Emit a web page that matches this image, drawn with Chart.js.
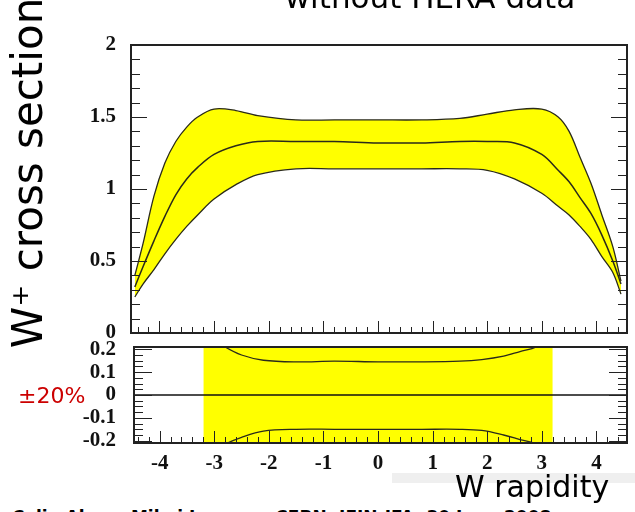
<!DOCTYPE html>
<html>
<head>
<meta charset="utf-8">
<script src="https://cdn.jsdelivr.net/npm/chart.js@4.4.1/dist/chart.umd.min.js"></script>
<style>
  body { margin: 0; background: #fff; }
  #wrap { position: relative; width: 635px; height: 512px; overflow: hidden; background: #fff; }
  canvas { position: absolute; left: 0; }
  #topChart { top: 0; }
  #ratioChart { top: 330px; }
  .txt { position: absolute; white-space: nowrap; font-family: "DejaVu Sans", sans-serif; color: #000; line-height: 1; }
</style>
</head>
<body>
<div id="wrap">
  <canvas id="topChart" width="635" height="345"></canvas>
  <canvas id="ratioChart" width="635" height="160"></canvas>

  <div class="txt" style="left:230px; top:-18px; width:400px; text-align:center; font-size:31px;">without HERA data</div>
  <div class="txt" style="left:-172px; top:152px; width:400px; height:42px; text-align:center; font-size:42px; transform:rotate(-90deg);">W⁺ cross section</div>
  <div class="txt" style="left:18px; top:385px; font-size:22px; color:#cc0000;">±20%</div>
  <div style="position:absolute; left:392px; top:473px; width:243px; height:10px; background:#efefef;"></div>
  <div class="txt" style="left:455px; top:472px; font-size:30px;">W rapidity</div>
  <div class="txt" style="left:12px; top:509px; font-size:17px; font-weight:bold;">Calin Alexa, Mihai Ionescu, CERN, IFIN-IFA, 30 June 2008</div>
</div>

<script>
// W rapidity points of the top panel
const rapidity = [-4.45, -4.3, -4.1, -3.9, -3.7, -3.5, -3.3, -3.0, -2.6, -2.2, -1.5, -0.8, 0,
                  0.8, 1.5, 2.0, 2.5, 3.0, 3.3, 3.5, 3.7, 3.9, 4.1, 4.3, 4.45];
const xsecUpper  = [0.40, 0.62, 0.95, 1.18, 1.33, 1.43, 1.50, 1.555, 1.545, 1.51, 1.48, 1.48, 1.48,
                    1.48, 1.49, 1.52, 1.55, 1.555, 1.50, 1.40, 1.22, 1.04, 0.82, 0.60, 0.36];
const xsecCentre = [0.32, 0.46, 0.64, 0.81, 0.96, 1.07, 1.15, 1.24, 1.30, 1.33, 1.33, 1.33, 1.32,
                    1.32, 1.33, 1.33, 1.32, 1.24, 1.13, 1.05, 0.94, 0.83, 0.68, 0.50, 0.34];
const xsecLower  = [0.25, 0.34, 0.44, 0.55, 0.65, 0.74, 0.82, 0.93, 1.03, 1.10, 1.14, 1.14, 1.14,
                    1.14, 1.14, 1.13, 1.07, 0.97, 0.88, 0.82, 0.74, 0.65, 0.53, 0.42, 0.27];

// relative uncertainty (lower panel)
const relRapidity = [-3.1, -2.8, -2.5, -2.1, -1.5, -0.8, 0, 0.8, 1.5, 1.9, 2.3, 2.6, 2.9, 3.1];
const relUp   = [0.26, 0.21, 0.175, 0.152, 0.145, 0.148, 0.145, 0.145, 0.148, 0.155, 0.17, 0.19, 0.21, 0.25];
const relDown = [-0.26, -0.215, -0.185, -0.158, -0.15, -0.15, -0.15, -0.15, -0.15, -0.155, -0.175, -0.195, -0.215, -0.25];
const bandRapidity = [-3.2, 3.2];

// tick labels
const xTicks = [-4, -3, -2, -1, 0, 1, 2, 3, 4];
const topYTicks = [0, 0.5, 1, 1.5, 2];
const ratioYTicks = [-0.2, -0.1, 0, 0.1, 0.2];

const yellow = '#ffff00';
const lineCol = '#2a2a1a';
const tickFont = { family: '"Liberation Serif", serif', size: 21, weight: 'bold' };

const pts = (xs, ys) => xs.map((x, i) => ({ x: x, y: ys[i] }));

// frame + inner ROOT-style tick marks
const frameTicks = {
   id: 'frameTicks',
   afterDatasetsDraw(chart, args, o) {
      const { ctx, chartArea: a, scales } = chart;
      const x = scales.x, y = scales.y;
      ctx.save();
      ctx.strokeStyle = '#222';
      ctx.lineWidth = 1;
      ctx.beginPath();
      let n = Math.round((o.yTo - o.yFrom) / o.yMinor);
      for (let i = 0; i <= n; i++) {
         const v = o.yFrom + i * o.yMinor;
         const major = Math.abs(v / o.yMajor - Math.round(v / o.yMajor)) < 1e-6;
         const len = major ? o.majLen : o.minLen;
         const py = Math.round(y.getPixelForValue(v)) + 0.5;
         ctx.moveTo(a.left, py); ctx.lineTo(a.left + len, py);
         ctx.moveTo(a.right, py); ctx.lineTo(a.right - len, py);
      }
      n = Math.round((o.xTo - o.xFrom) / o.xMinor);
      for (let i = 0; i <= n; i++) {
         const v = o.xFrom + i * o.xMinor;
         const major = Math.abs(v - Math.round(v)) < 1e-6;
         const len = major ? 12 : 6;
         const px = Math.round(x.getPixelForValue(v)) + 0.5;
         ctx.moveTo(px, a.bottom); ctx.lineTo(px, a.bottom - len);
      }
      ctx.stroke();
      ctx.lineWidth = 2;
      ctx.strokeRect(a.left, a.top, a.right - a.left, a.bottom - a.top);
      ctx.restore();
   }
};

function setTicks(values) {
   return axis => { axis.ticks = values.map(v => ({ value: v })); };
}

// fixed axis width, no extra room for the end labels
function fixWidth(w) {
   return s => { s.width = w; s.paddingTop = 0; s.paddingBottom = 0; };
}

const plainLabel = v => String(v);

new Chart(document.getElementById('topChart'), {
   type: 'line',
   data: {
      datasets: [
         {
            data: pts(rapidity, xsecUpper),
            borderColor: lineCol,
            borderWidth: 1.3,
            backgroundColor: yellow,
            fill: '+2',
            pointRadius: 0,
            tension: 0.35
         },
         {
            data: pts(rapidity, xsecCentre),
            borderColor: lineCol,
            borderWidth: 1.5,
            fill: false,
            pointRadius: 0,
            tension: 0.35
         },
         {
            data: pts(rapidity, xsecLower),
            borderColor: lineCol,
            borderWidth: 1.3,
            fill: false,
            pointRadius: 0,
            tension: 0.35
         }
      ]
   },
   options: {
      responsive: false,
      animation: false,
      layout: { autoPadding: false, padding: { top: 45, right: 8, bottom: 12, left: 0 } },
      plugins: {
         legend: { display: false },
         tooltip: { enabled: false },
         filler: { drawTime: 'beforeDatasetsDraw' },
         frameTicks: { yFrom: 0, yTo: 2, yMinor: 0.1, yMajor: 0.5, majLen: 16, minLen: 9,
                       xFrom: -4.4, xTo: 4.4, xMinor: 0.2 }
      },
      scales: {
         x: { type: 'linear', min: -4.52, max: 4.56, display: false },
         y: {
            min: 0,
            max: 2,
            afterBuildTicks: setTicks(topYTicks),
            afterFit: fixWidth(131),
            ticks: { font: tickFont, color: '#111', padding: 15, autoSkip: false, callback: plainLabel },
            grid: { display: false, drawTicks: false },
            border: { display: false }
         }
      }
   },
   plugins: [frameTicks]
});

new Chart(document.getElementById('ratioChart'), {
   type: 'line',
   data: {
      datasets: [
         {
            data: pts(bandRapidity, [0.21, 0.21]),
            borderWidth: 0,
            backgroundColor: yellow,
            fill: 'start',
            pointRadius: 0
         },
         {
            data: pts(relRapidity, relUp),
            borderColor: lineCol,
            borderWidth: 1.3,
            fill: false,
            pointRadius: 0,
            tension: 0.35
         },
         {
            data: pts(relRapidity, relDown),
            borderColor: lineCol,
            borderWidth: 1.3,
            fill: false,
            pointRadius: 0,
            tension: 0.35
         },
         {
            data: pts([-4.47, 4.56], [0, 0]),
            borderColor: '#111',
            borderWidth: 1.5,
            fill: false,
            pointRadius: 0
         }
      ]
   },
   options: {
      responsive: false,
      animation: false,
      layout: { autoPadding: false, padding: { top: 17, right: 8, bottom: 0, left: 0 } },
      plugins: {
         legend: { display: false },
         tooltip: { enabled: false },
         filler: { drawTime: 'beforeDatasetsDraw' },
         frameTicks: { yFrom: -0.2, yTo: 0.2, yMinor: 0.025, yMajor: 0.1, majLen: 18, minLen: 9,
                       xFrom: -4.4, xTo: 4.4, xMinor: 0.2 }
      },
      scales: {
         x: {
            type: 'linear',
            min: -4.47,
            max: 4.56,
            afterBuildTicks: setTicks(xTicks),
            afterFit: s => { s.height = 47; s.paddingLeft = 0; s.paddingRight = 0; },
            ticks: { font: tickFont, color: '#111', padding: 8, autoSkip: false, maxRotation: 0, callback: plainLabel },
            grid: { display: false, drawTicks: false },
            border: { display: false }
         },
         y: {
            min: -0.21,
            max: 0.21,
            afterBuildTicks: setTicks(ratioYTicks),
            afterFit: fixWidth(134),
            ticks: { font: tickFont, color: '#111', padding: 18, autoSkip: false, callback: plainLabel },
            grid: { display: false, drawTicks: false },
            border: { display: false }
         }
      }
   },
   plugins: [frameTicks]
});
</script>
</body>
</html>
